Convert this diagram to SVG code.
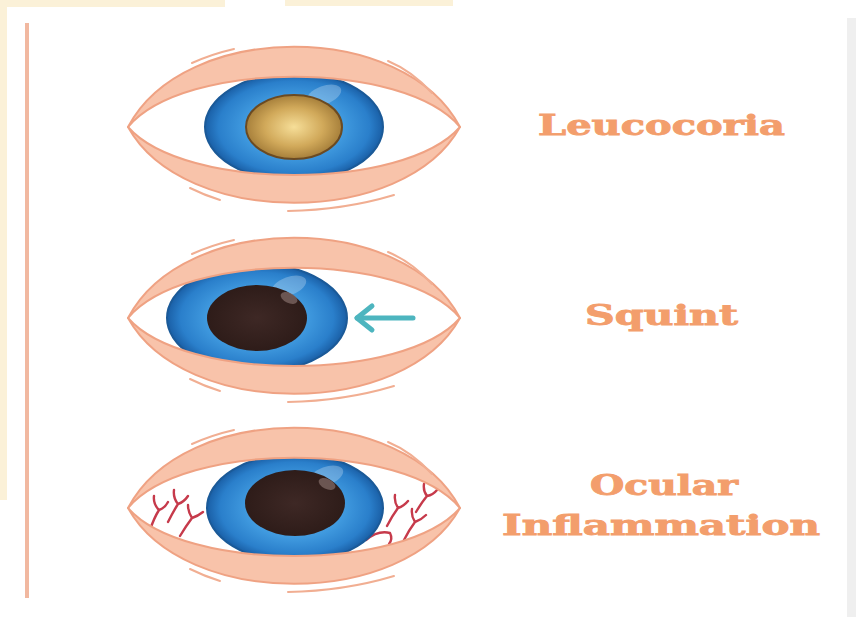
<svg xmlns="http://www.w3.org/2000/svg" xmlns:xlink="http://www.w3.org/1999/xlink" width="856" height="617" viewBox="0 0 856 617">
  <style>
    .lid { fill: #F8C3AA; stroke: #EFA283; stroke-width: 2; stroke-linejoin: round; }
    .lash { fill: none; stroke: #F1AE92; stroke-width: 2; stroke-linecap: round; }
    .label { font-family: "DejaVu Serif", "Liberation Serif", serif; font-weight: bold; font-size: 28px; fill: #F39E6C; stroke: #F39E6C; stroke-width: 0.9; }
    .vein { fill: none; stroke: #C63A4B; stroke-width: 2.4; stroke-linecap: round; stroke-linejoin: round; }
  </style>
  <defs>
    <radialGradient id="irisGrad" cx="0.5" cy="0.5" r="0.5">
      <stop offset="0" stop-color="#6CBAEE"/>
      <stop offset="0.55" stop-color="#409ADF"/>
      <stop offset="0.85" stop-color="#2A7FCB"/>
      <stop offset="1" stop-color="#1A5FA6"/>
    </radialGradient>
    <radialGradient id="goldGrad" cx="0.5" cy="0.5" r="0.55">
      <stop offset="0" stop-color="#F6DE98"/>
      <stop offset="0.55" stop-color="#D1A95A"/>
      <stop offset="1" stop-color="#9C7533"/>
    </radialGradient>
    <radialGradient id="darkGrad" cx="0.5" cy="0.5" r="0.5">
      <stop offset="0" stop-color="#3E2825"/>
      <stop offset="1" stop-color="#2E1C19"/>
    </radialGradient>
    <!-- eye opening, centred at 0,0 -->
    <path id="opening" d="M-166,0 C-110,-67 110,-67 166,0 C110,64 -110,64 -166,0 Z"/>
    <clipPath id="openClip"><use href="#opening"/></clipPath>
    <!-- upper and lower lid bands with thin outer strokes -->
    <g id="lids">
      <path class="lid" d="M-166,0 C-110,-107 110,-107 166,0 C110,-67 -110,-67 -166,0 Z"/>
      <path class="lid" d="M-166,0 C-110,101 110,101 166,0 C110,64 -110,64 -166,0 Z"/>
      <path class="lash" d="M-102,-64 Q-82,-73 -60,-78"/>
      <path class="lash" d="M94,-66 Q118,-56 138,-34"/>
      <path class="lash" d="M-104,61 Q-90,68 -74,73"/>
      <path class="lash" d="M-6,84 Q50,83 100,68"/>
    </g>
  </defs>

  <!-- page background -->
  <rect x="0" y="0" width="856" height="617" fill="#FFFFFF"/>
  <rect x="0" y="0" width="225" height="7" fill="#FBF1D8"/>
  <rect x="285" y="0" width="168" height="6" fill="#FBF1D8"/>
  <rect x="0" y="0" width="7" height="500" fill="#FBF1D8"/>
  <rect x="847" y="18" width="9" height="599" fill="#EFEFEF"/>

  <!-- vertical rule -->
  <line x1="27" y1="23" x2="27" y2="598" stroke="#F1B8A0" stroke-width="4"/>

  <!-- Leucocoria -->
  <g id="leucocoria" transform="translate(294,127)">
    <use href="#opening" fill="#FFFFFF"/>
    <g clip-path="url(#openClip)">
      <ellipse cx="0" cy="0" rx="89" ry="54" fill="url(#irisGrad)" stroke="#1B5A98" stroke-width="2"/>
      <ellipse cx="30" cy="-32" rx="18" ry="9" fill="#FFFFFF" opacity="0.25" transform="rotate(-20 30 -32)"/>
    </g>
    <ellipse cx="0" cy="0" rx="48" ry="32" fill="url(#goldGrad)" stroke="#6B4A22" stroke-width="2"/>
    <use href="#lids"/>
  </g>
  <text id="label-leucocoria" class="label" x="538" y="135" textLength="247" lengthAdjust="spacingAndGlyphs">Leucocoria</text>

  <!-- Squint -->
  <g id="squint" transform="translate(294,318)">
    <use href="#opening" fill="#FFFFFF"/>
    <g clip-path="url(#openClip)">
      <ellipse cx="-37" cy="0" rx="90" ry="54" fill="url(#irisGrad)" stroke="#1B5A98" stroke-width="2"/>
      <ellipse cx="-5" cy="-32" rx="18" ry="9" fill="#FFFFFF" opacity="0.25" transform="rotate(-20 -5 -32)"/>
    </g>
    <ellipse cx="-37" cy="0" rx="50" ry="33" fill="url(#darkGrad)"/>
    <ellipse cx="-5" cy="-20" rx="9" ry="5" fill="#7A6460" opacity="0.8" transform="rotate(25 -5 -20)"/>
    <use href="#lids"/>
    <!-- direction arrow -->
    <g fill="none" stroke="#4DB5BF" stroke-width="5" stroke-linecap="round" stroke-linejoin="round">
      <line x1="119" y1="0" x2="63" y2="0"/>
      <polyline points="78,-12 63,0 78,12"/>
    </g>
  </g>
  <text id="label-squint" class="label" x="585" y="325" textLength="153" lengthAdjust="spacingAndGlyphs">Squint</text>

  <!-- Ocular Inflammation -->
  <g id="ocular-inflammation" transform="translate(294,508)">
    <use href="#opening" fill="#FFFFFF"/>
    <!-- blood vessels -->
    <g class="vein">
      <path d="M-144,22 Q-140,10 -135,2 M-135,2 Q-141,-4 -140,-12 M-135,2 Q-129,0 -126,-6"/>
      <path d="M-126,14 Q-121,4 -116,-4 M-116,-4 Q-121,-10 -120,-18 M-116,-4 Q-110,-6 -106,-12"/>
      <path d="M-114,28 Q-108,18 -102,10 M-102,10 Q-106,4 -106,-3 M-102,10 Q-96,8 -91,4"/>
      <path d="M93,18 Q98,8 104,0 M104,0 Q100,-6 101,-13 M104,0 Q110,-2 114,-7"/>
      <path d="M110,32 Q115,22 121,14 M121,14 Q117,8 118,1 M121,14 Q127,12 132,7"/>
      <path d="M122,4 Q128,-6 133,-12 M133,-12 Q129,-17 130,-24 M133,-12 Q139,-13 143,-18"/>
      <path d="M72,32 Q84,22 96,25 Q99,31 95,36"/>
    </g>
    <g clip-path="url(#openClip)">
      <ellipse cx="1" cy="0" rx="88" ry="54" fill="url(#irisGrad)" stroke="#1B5A98" stroke-width="2"/>
      <ellipse cx="32" cy="-32" rx="18" ry="9" fill="#FFFFFF" opacity="0.25" transform="rotate(-20 32 -32)"/>
    </g>
    <ellipse cx="1" cy="-5" rx="50" ry="33" fill="url(#darkGrad)"/>
    <ellipse cx="33" cy="-24" rx="9" ry="5" fill="#7A6460" opacity="0.8" transform="rotate(25 33 -24)"/>
    <use href="#lids"/>
  </g>
  <text id="label-ocular" class="label" x="590" y="495" textLength="148" lengthAdjust="spacingAndGlyphs">Ocular</text>
  <text id="label-inflammation" class="label" x="502" y="535" textLength="318" lengthAdjust="spacingAndGlyphs">Inflammation</text>
</svg>
